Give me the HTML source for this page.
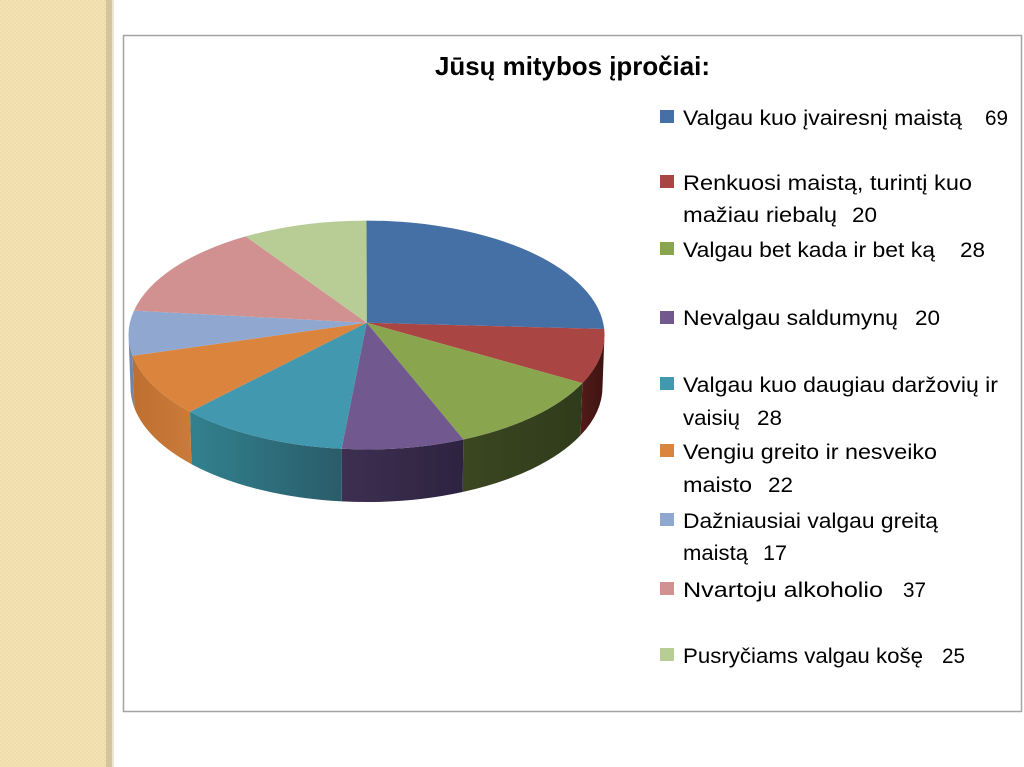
<!DOCTYPE html>
<html>
<head>
<meta charset="utf-8">
<style>
  html,body{margin:0;padding:0;background:#fff;}
  body{width:1024px;height:767px;overflow:hidden;}
  svg{display:block;}
</style>
</head>
<body>
<svg width="1024" height="767" viewBox="0 0 1024 767" xmlns="http://www.w3.org/2000/svg">
  <defs>
    <pattern id="chk" x="0" y="0" width="4" height="4" patternUnits="userSpaceOnUse">
      <rect width="4" height="4" fill="#F4E2B5"/>
      <rect width="2" height="2" fill="#F0DCAA"/>
      <rect x="2" y="2" width="2" height="2" fill="#F0DCAA"/>
    </pattern>
    <linearGradient id="gRed" gradientUnits="userSpaceOnUse" x1="580" y1="0" x2="605" y2="0">
      <stop offset="0" stop-color="#531c1a"/><stop offset="1" stop-color="#3c1311"/>
    </linearGradient>
    <linearGradient id="gGreen" gradientUnits="userSpaceOnUse" x1="463" y1="0" x2="582" y2="0">
      <stop offset="0" stop-color="#3a4721"/><stop offset="1" stop-color="#303b1b"/>
    </linearGradient>
    <linearGradient id="gPurple" gradientUnits="userSpaceOnUse" x1="342" y1="0" x2="463" y2="0">
      <stop offset="0" stop-color="#3e2f50"/><stop offset="1" stop-color="#2d2341"/>
    </linearGradient>
    <linearGradient id="gTeal" gradientUnits="userSpaceOnUse" x1="190" y1="0" x2="342" y2="0">
      <stop offset="0" stop-color="#32818f"/><stop offset="1" stop-color="#2a5c69"/>
    </linearGradient>
    <linearGradient id="gOrange" gradientUnits="userSpaceOnUse" x1="132" y1="0" x2="190" y2="0">
      <stop offset="0" stop-color="#bd6f31"/><stop offset="1" stop-color="#ca7b3a"/>
    </linearGradient>
  </defs>

  <!-- left decorative stripe -->
  <rect x="0" y="0" width="106" height="767" fill="url(#chk)"/>
  <rect x="106" y="0" width="6" height="767" fill="#D6C59C"/>
  <rect x="112" y="0" width="2" height="767" fill="#EDE6D4"/>

  <!-- chart box -->
  <rect x="123.5" y="35.5" width="898" height="676" fill="#fff" stroke="#A3A3A3" stroke-width="1.5"/>

  <!-- title -->
  <text x="435" y="75" font-family="Liberation Sans, sans-serif" font-weight="bold" font-size="26" fill="#000" textLength="275" lengthAdjust="spacingAndGlyphs">Jūsų mitybos įpročiai:</text>

  <!-- pie sides -->
  <path d="M604.5,335 A238,114.4 0 0 1 582.4,383.1 L580.6,435.3 A236,115 0 0 0 602.5,387 Z" fill="url(#gRed)"/>
  <path d="M582.4,383.1 A238,114.4 0 0 1 463.4,439.5 L462.6,492.0 A236,115 0 0 0 580.6,435.3 Z" fill="url(#gGreen)"/>
  <path d="M463.4,439.5 A238,114.4 0 0 1 341.6,448.8 L341.8,501.4 A236,115 0 0 0 462.6,492.0 Z" fill="url(#gPurple)"/>
  <path d="M341.6,448.8 A238,114.4 0 0 1 190.0,411.7 L191.4,464.1 A236,115 0 0 0 341.8,501.4 Z" fill="url(#gTeal)"/>
  <path d="M190.0,411.7 A238,114.4 0 0 1 132.5,355.8 L134.4,408.0 A236,115 0 0 0 191.4,464.1 Z" fill="url(#gOrange)"/>
  <path d="M132.5,355.8 A238,114.4 0 0 1 128.5,335 L130.5,387 A236,115 0 0 0 134.4,408.0 Z" fill="#7285a7"/>

  <!-- pie top -->
  <path d="M366.7,322.7 L366.5,220.6 A238,114.4 0 0 1 604.2,329.0 Z" fill="#4470A5"/>
  <path d="M366.7,322.7 L604.2,329.0 A238,114.4 0 0 1 582.4,383.1 Z" fill="#A94543"/>
  <path d="M366.7,322.7 L582.4,383.1 A238,114.4 0 0 1 463.4,439.5 Z" fill="#89A54E"/>
  <path d="M366.7,322.7 L463.4,439.5 A238,114.4 0 0 1 341.6,448.8 Z" fill="#71588F"/>
  <path d="M366.7,322.7 L341.6,448.8 A238,114.4 0 0 1 190.0,411.7 Z" fill="#4198AF"/>
  <path d="M366.7,322.7 L190.0,411.7 A238,114.4 0 0 1 132.5,355.8 Z" fill="#DB843D"/>
  <path d="M366.7,322.7 L132.5,355.8 A238,114.4 0 0 1 134.0,310.6 Z" fill="#90A7CF"/>
  <path d="M366.7,322.7 L134.0,310.6 A238,114.4 0 0 1 245.7,236.4 Z" fill="#D09190"/>
  <path d="M366.7,322.7 L245.7,236.4 A238,114.4 0 0 1 366.5,220.6 Z" fill="#B8CD96"/>

  <!-- legend -->
  <g font-family="Liberation Sans, sans-serif" font-size="21" fill="#000">
    <rect x="660" y="110" width="14" height="13" fill="#4470A5"/>
    <text x="683" y="125" textLength="279" lengthAdjust="spacingAndGlyphs">Valgau kuo įvairesnį maistą</text>
    <text x="985" y="125" textLength="23" lengthAdjust="spacingAndGlyphs">69</text>

    <rect x="660" y="175" width="14" height="13" fill="#A94543"/>
    <text x="683" y="190" textLength="289" lengthAdjust="spacingAndGlyphs">Renkuosi maistą, turintį kuo</text>
    <text x="683" y="222" textLength="154" lengthAdjust="spacingAndGlyphs">mažiau riebalų</text>
    <text x="852" y="222" textLength="25" lengthAdjust="spacingAndGlyphs">20</text>

    <rect x="660" y="242" width="14" height="13" fill="#89A54E"/>
    <text x="683" y="257" textLength="252" lengthAdjust="spacingAndGlyphs">Valgau bet kada ir bet ką</text>
    <text x="960" y="257" textLength="25" lengthAdjust="spacingAndGlyphs">28</text>

    <rect x="660" y="311" width="14" height="13" fill="#71588F"/>
    <text x="683" y="325" textLength="215" lengthAdjust="spacingAndGlyphs">Nevalgau saldumynų</text>
    <text x="915" y="325" textLength="25" lengthAdjust="spacingAndGlyphs">20</text>

    <rect x="660" y="377" width="14" height="13" fill="#4198AF"/>
    <text x="683" y="392" textLength="315" lengthAdjust="spacingAndGlyphs">Valgau kuo daugiau daržovių ir</text>
    <text x="683" y="425" textLength="57" lengthAdjust="spacingAndGlyphs">vaisių</text>
    <text x="757" y="425" textLength="25" lengthAdjust="spacingAndGlyphs">28</text>

    <rect x="660" y="444" width="14" height="13" fill="#DB843D"/>
    <text x="683" y="459" textLength="254" lengthAdjust="spacingAndGlyphs">Vengiu greito ir  nesveiko</text>
    <text x="683" y="492" textLength="69" lengthAdjust="spacingAndGlyphs">maisto</text>
    <text x="768" y="492" textLength="25" lengthAdjust="spacingAndGlyphs">22</text>

    <rect x="660" y="513" width="14" height="13" fill="#90A7CF"/>
    <text x="683" y="528" textLength="255" lengthAdjust="spacingAndGlyphs">Dažniausiai valgau greitą</text>
    <text x="683" y="560" textLength="65" lengthAdjust="spacingAndGlyphs">maistą</text>
    <text x="763" y="560" textLength="24" lengthAdjust="spacingAndGlyphs">17</text>

    <rect x="660" y="582" width="14" height="13" fill="#D09190"/>
    <text x="683" y="597" textLength="200" lengthAdjust="spacingAndGlyphs">Nvartoju alkoholio</text>
    <text x="903" y="597" textLength="23" lengthAdjust="spacingAndGlyphs">37</text>

    <rect x="660" y="648" width="14" height="13" fill="#B8CD96"/>
    <text x="683" y="663" textLength="240" lengthAdjust="spacingAndGlyphs">Pusryčiams valgau košę</text>
    <text x="942" y="663" textLength="23" lengthAdjust="spacingAndGlyphs">25</text>
  </g>
</svg>
</body>
</html>
